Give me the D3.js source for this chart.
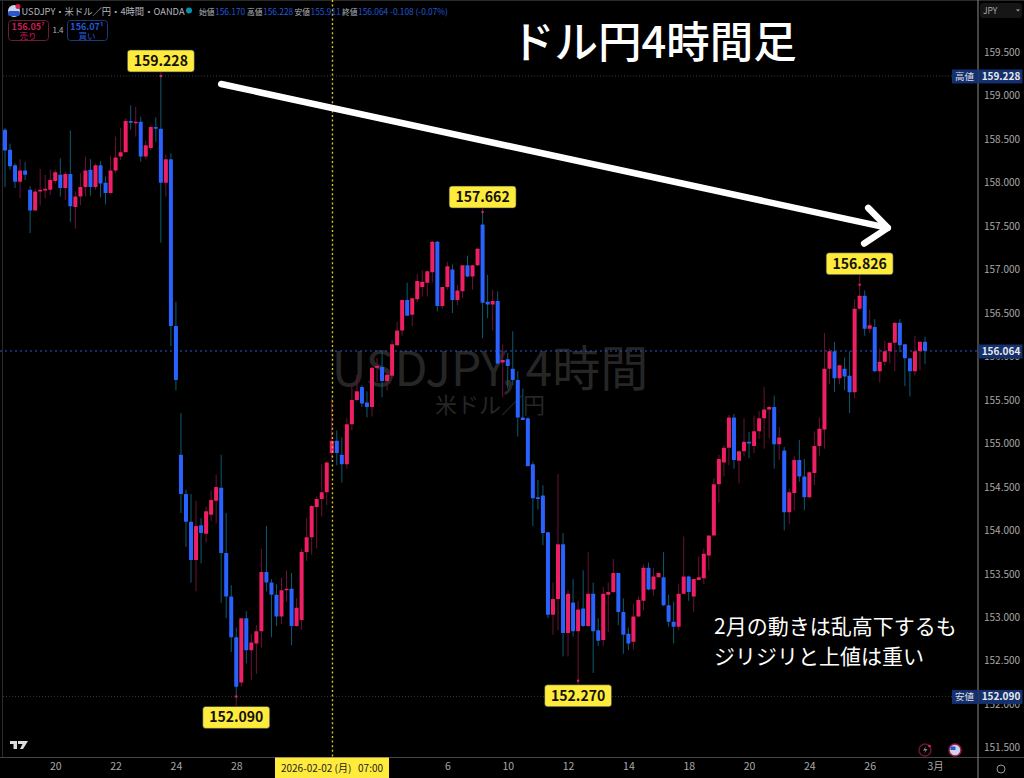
<!DOCTYPE html>
<html lang="ja"><head><meta charset="utf-8">
<script src="https://cdn.jsdelivr.net/npm/d3@7"></script>
<style>html,body{margin:0;padding:0;background:#000;overflow:hidden}svg{display:block}
text{font-family:"Noto Sans CJK JP","Noto Sans",sans-serif}</style></head><body>
<svg id="c" width="1024" height="778"></svg>
<script>
const opens=[158.61,158.38,158.20,158.01,158.14,157.92,157.68,157.90,157.91,157.92,
158.02,158.09,157.94,158.10,157.72,157.84,157.95,158.15,157.95,158.20,
158.00,157.88,158.14,158.30,158.35,158.71,158.69,158.70,158.30,158.40,
158.64,158.62,158.00,158.27,156.35,154.87,154.42,154.10,153.66,154.06,
153.96,154.18,154.34,154.49,153.74,153.24,152.77,152.25,152.99,152.62,
152.70,152.84,153.52,153.40,153.26,153.01,153.31,153.33,152.90,152.97,
153.75,153.92,154.27,154.36,154.44,154.89,155.03,154.87,154.76,155.22,
155.50,155.65,155.47,155.42,155.87,155.88,155.72,155.78,156.13,156.30,
156.65,156.48,156.66,156.80,156.85,156.97,157.32,156.58,156.80,157.00,
156.65,156.75,157.05,156.92,157.05,157.52,156.63,156.60,156.64,155.93,
155.97,155.86,155.73,155.30,155.29,154.76,154.38,154.40,153.98,153.03,
153.21,153.84,152.82,153.17,152.84,153.10,152.90,153.27,152.85,152.74,
153.26,153.29,153.51,153.06,152.81,152.72,153.01,153.19,153.57,153.32,
153.46,153.46,153.14,152.95,152.89,153.27,153.47,153.24,153.43,153.45,
153.71,153.94,154.53,154.78,154.95,155.30,154.80,154.91,155.02,154.97,
155.14,155.29,155.39,155.42,154.99,154.92,154.21,154.43,154.81,154.62,
154.38,154.66,154.97,155.16,155.86,156.06,155.75,155.86,155.78,155.59,
156.55,156.70,156.32,156.34,155.83,155.94,156.06,156.16,156.39,156.14,
155.98,155.83,156.06,156.17];
const highs=[158.63,158.45,158.22,158.27,158.24,157.96,157.93,158.16,158.09,158.15,
158.15,158.28,158.13,158.60,157.90,158.11,158.30,158.27,158.22,158.25,
158.07,158.31,158.53,158.63,158.74,158.89,158.87,158.76,158.48,158.66,
158.75,159.228,158.32,158.34,156.63,155.35,154.47,154.42,154.34,154.14,
154.27,154.46,154.64,154.87,154.20,153.37,152.88,152.99,153.07,152.81,
152.91,153.79,154.05,153.44,153.38,153.46,153.54,153.51,153.22,153.79,
154.14,154.29,154.39,154.76,154.79,155.52,155.15,155.07,155.29,155.67,
155.79,155.67,155.60,155.88,155.98,156.06,155.83,156.19,156.40,156.66,
156.85,156.67,156.95,156.99,156.99,157.33,157.33,156.80,157.09,157.06,
156.82,157.05,157.16,157.05,157.25,157.662,156.94,156.77,156.75,156.14,
156.04,156.29,155.83,155.63,155.30,154.79,154.58,154.52,153.98,153.40,
154.65,153.97,153.31,153.44,153.19,153.54,153.75,153.40,152.99,153.35,
153.40,153.67,153.51,153.22,152.88,153.16,153.24,153.61,153.63,153.57,
153.51,153.75,153.26,153.18,153.38,153.93,153.48,153.44,153.70,153.79,
153.94,154.60,154.87,154.98,155.33,155.34,154.92,155.29,155.13,155.32,
155.37,155.65,155.43,155.55,155.19,154.96,154.48,154.86,155.04,154.82,
154.68,155.14,155.30,156.27,156.09,156.17,155.90,155.99,156.06,156.66,
156.826,156.76,156.54,156.43,156.09,156.18,156.16,156.39,156.43,156.14,
155.98,156.24,156.17,156.228];
const lows=[157.95,158.15,157.94,157.82,158.03,157.42,157.68,157.74,157.82,157.86,
157.99,157.84,157.80,157.55,157.47,157.74,157.84,157.85,157.92,157.83,
157.75,157.87,158.11,158.26,158.35,158.61,158.53,158.24,158.27,158.37,
158.47,157.31,157.84,156.12,155.61,154.20,153.81,153.40,153.30,153.62,
153.86,154.11,154.08,153.17,152.99,152.60,152.09,152.20,152.47,152.28,
152.35,152.65,153.30,152.77,152.90,152.92,153.18,152.68,152.89,152.86,
153.65,153.72,153.79,154.16,154.29,154.81,154.75,154.55,154.71,155.15,
155.48,155.42,155.30,155.31,155.71,155.53,155.61,155.75,156.12,156.24,
156.47,156.35,156.63,156.69,156.69,156.85,156.52,156.55,156.77,156.50,
156.59,156.67,156.91,156.77,157.04,156.21,156.44,156.30,155.92,155.53,
155.63,155.67,155.08,155.27,154.73,154.05,154.24,153.83,152.99,152.80,
152.85,152.55,152.55,152.78,152.27,152.89,152.89,152.36,152.67,152.67,
152.83,153.28,152.91,152.58,152.62,152.63,153.00,153.08,153.31,153.25,
153.46,153.13,152.89,152.70,152.85,153.27,153.19,153.06,153.43,153.38,
153.54,153.94,154.32,154.62,154.75,154.71,154.54,154.85,154.83,154.89,
155.05,154.94,155.06,154.71,154.81,154.00,154.07,154.23,154.56,154.23,
154.37,154.52,154.86,154.94,155.68,155.59,155.68,155.61,155.35,155.52,
156.54,156.24,156.27,155.82,155.70,155.89,155.92,155.83,156.05,155.66,
155.54,155.78,155.84,155.911];
const closes=[158.37,158.19,158.01,158.14,158.09,157.68,157.90,157.92,157.93,158.03,
158.12,157.94,158.10,157.73,157.84,157.95,158.14,157.95,158.20,157.99,
157.88,158.14,158.29,158.35,158.71,158.69,158.70,158.30,158.43,158.64,
158.62,158.00,158.27,156.35,155.73,154.42,154.10,153.66,154.05,153.97,
154.22,154.35,154.50,153.74,153.24,152.77,152.20,152.99,152.62,152.71,
152.84,153.52,153.40,153.26,153.01,153.31,153.33,152.90,153.11,153.75,
153.92,154.28,154.36,154.44,154.78,155.03,154.89,154.76,155.22,155.50,
155.60,155.46,155.42,155.87,155.89,155.72,155.79,156.14,156.30,156.65,
156.47,156.67,156.87,156.86,156.98,157.32,156.58,156.80,157.04,156.65,
156.76,157.05,156.92,157.05,157.24,156.62,156.60,156.64,155.92,155.96,
155.89,155.73,155.30,155.27,154.74,154.37,154.36,153.97,153.03,153.21,
153.84,152.82,153.27,152.84,153.09,152.90,153.27,152.84,152.73,153.27,
153.29,153.51,153.06,152.80,152.70,153.01,153.20,153.57,153.32,153.47,
153.51,153.14,152.95,152.89,153.27,153.47,153.29,153.44,153.46,153.73,
153.94,154.53,154.82,154.95,155.30,154.81,154.91,155.02,155.00,155.14,
155.29,155.39,155.42,154.99,155.07,154.21,154.44,154.81,154.62,154.38,
154.67,154.97,155.17,155.86,156.06,155.75,155.90,155.77,155.59,156.55,
156.70,156.32,156.36,155.83,155.94,156.06,156.16,156.39,156.13,155.98,
155.83,156.06,156.17,156.064];
const priceTicks=[151.5,152,152.5,153,153.5,154,154.5,155,155.5,156,156.5,157,157.5,158,158.5,159,159.5];
const timeTickIndex=[10,22,34,46,88,100,112,124,136,148,160,172,185];
const timeTickLabels=["20","22","24","28","6","10","12","14","18","20","24","26","3月"];
const calloutIndex=[31,95,170,46,114];
const calloutPrice=[159.228,157.662,156.826,152.090,152.270];
const calloutSide=[-1,-1,-1,1,1];
const calloutGap=[4,4,10,10,4];
const lastPrice=156.064, highPrice=159.228, lowPrice=152.090, crossIndex=65;
const trendIndex=[43,175.6], trendPrice=[159.135,157.48];
const headIndex=[171.7,175.6,170.9], headPrice=[157.71,157.48,157.30];

const W=1024,H=778,axisX=978,axisY=757.5;
const RED="#ee1f63",BLUE="#2962ff",REDW="#6b1238",BLUEW="#0e5a70";
const svg=d3.select("#c");
svg.append("rect").attr("width",W).attr("height",H).attr("fill","#000");
const x=d3.scaleLinear().domain([0,183]).range([5,925]);
const y=d3.scaleLinear().domain([151.5,159.5]).range([747.7,52.3]);
const candles=opens.map((o,i)=>({i,o,h:highs[i],l:lows[i],c:closes[i]}));

// watermark
svg.append("text").attr("x",490).attr("y",386).attr("text-anchor","middle").attr("font-size",48).attr("fill","#262626").text("USDJPY, 4時間");
svg.append("text").attr("x",490).attr("y",413).attr("text-anchor","middle").attr("font-size",22).attr("fill","#262626").text("米ドル／円");

// frame
const ln=(a,b,c,d,col,w=1,dash=null)=>svg.append("line").attr("x1",a).attr("y1",b).attr("x2",c).attr("y2",d).attr("stroke",col).attr("stroke-width",w).attr("stroke-dasharray",dash);
ln(2.5,0,2.5,axisY,"#2a2a2a");
ln(0,0.5,W,0.5,"#2a2a2a");
ln(0,axisY,W,axisY,"#444");
ln(axisX,0,axisX,H,"#8a8a8a",1);

// high / low / last lines
ln(3,y(highPrice),952,y(highPrice),"#3a3a3a",1,"1 2");
ln(3,y(lowPrice),952,y(lowPrice),"#3a3a3a",1,"1 2");
ln(0,y(lastPrice),axisX,y(lastPrice),"#2a5ad0",1,"2 3");

// candles
const g=svg.append("g");
g.selectAll("line.w").data(candles).join("line").attr("class","w")
 .attr("x1",d=>x(d.i)).attr("x2",d=>x(d.i)).attr("y1",d=>y(d.h)).attr("y2",d=>y(d.l))
 .attr("stroke",d=>d.c>=d.o?REDW:BLUEW).attr("stroke-width",1);
g.selectAll("rect").data(candles).join("rect")
 .attr("x",d=>x(d.i)-2).attr("width",4)
 .attr("y",d=>y(Math.max(d.o,d.c))).attr("height",d=>Math.max(1.5,Math.abs(y(d.o)-y(d.c))))
 .attr("rx",0.5).attr("fill",d=>d.c>=d.o?RED:BLUE);

// crosshair
ln(x(crossIndex)+0.7,0,x(crossIndex)+0.7,axisY,"#e0c020",1.4,"2 2.6");

// axes
const ay=d3.axisRight(y).tickValues(priceTicks).tickFormat(d3.format(".3f")).tickSize(0).tickPadding(0);
const gy=svg.append("g").attr("transform",`translate(${axisX+6},0)`).call(ay);
gy.select(".domain").remove();
gy.selectAll("text").attr("fill","#a8a8a8").attr("font-size",10).attr("font-family",'"Open Sans",sans-serif');
const ax=d3.axisBottom(x).tickValues(timeTickIndex).tickFormat((d,i)=>timeTickLabels[i]).tickSize(0).tickPadding(0);
const gx=svg.append("g").attr("transform",`translate(0,${axisY+5})`).call(ax);
gx.select(".domain").remove();
gx.selectAll("text").attr("fill","#a8a8a8").attr("font-size",10.5).attr("font-family",'"Open Sans","Noto Sans CJK JP",sans-serif');

// price tags
function tag(p,name){
  const yy=y(p);
  if(name){svg.append("rect").attr("x",952).attr("y",yy-6.5).attr("width",26).attr("height",14).attr("fill","#14306e");
    svg.append("text").attr("x",964.5).attr("y",yy+4).attr("text-anchor","middle").attr("font-size",9.5).attr("fill","#ddd").text(name);}
  svg.append("rect").attr("x",axisX+0.5).attr("y",yy-6.5).attr("width",44).attr("height",14).attr("fill","#14306e");
  svg.append("text").attr("x",1001).attr("y",yy+4).attr("text-anchor","middle").attr("font-size",10).attr("font-weight",600).attr("font-family",'"Open Sans",sans-serif').attr("fill","#e8e8e8").text(d3.format(".3f")(p));
}
tag(highPrice,"高値");tag(lowPrice,"安値");tag(lastPrice,null);
svg.append("rect").attr("x",980).attr("y",3).attr("width",42).attr("height",15).attr("rx",3).attr("fill","#161616");
svg.append("text").attr("x",983).attr("y",14).attr("font-size",8.5).attr("fill","#aaa").text("JPY");
svg.append("path").attr("d","M1016 9.5h4l-2 2z").attr("fill","#aaa");

// crosshair time label
svg.append("rect").attr("x",275).attr("y",axisY).attr("width",114).attr("height",H-axisY).attr("fill","#ffeb3b");
svg.append("text").attr("x",332).attr("y",772).attr("text-anchor","middle").attr("font-size",10).attr("fill","#222").attr("xml:space","preserve").text("2026-02-02 (月)   07:00");

// callouts
calloutIndex.forEach((ci,k)=>{
  const px=x(ci),py=y(calloutPrice[k]),s=calloutSide[k],gap=calloutGap[k];
  const boxY=s<0?py-gap-22:py+gap;
  ln(px,py,px,s<0?py-gap:py+gap,REDW,1);
  svg.append("circle").attr("cx",px).attr("cy",py).attr("r",1.2).attr("fill",RED);
  svg.append("rect").attr("x",px-33.5).attr("y",boxY).attr("width",67).attr("height",22).attr("rx",3).attr("fill","#ffeb3b").attr("stroke","#1b2a55").attr("stroke-width",0.6);
  svg.append("text").attr("x",px).attr("y",boxY+16).attr("text-anchor","middle").attr("font-size",14).attr("font-weight",600).attr("font-family",'"Open Sans",sans-serif').attr("fill","#111").text(d3.format(".3f")(calloutPrice[k]));
});

// trend arrow
const arrow=d3.line().x(d=>x(d[0])).y(d=>y(d[1]));
const common=s=>s.attr("fill","none").attr("stroke","#fff").attr("stroke-width",6.5).attr("stroke-linecap","round").attr("stroke-linejoin","round");
svg.append("path").attr("d",arrow(d3.zip(trendIndex,trendPrice))).call(common);
svg.append("path").attr("d",arrow(d3.zip(headIndex,headPrice))).call(common);

// annotations
svg.append("text").attr("x",511).attr("y",58).attr("font-size",43.5).attr("font-weight",500).attr("fill","#fff").text("ドル円4時間足");
svg.append("text").attr("x",714).attr("y",633.5).attr("font-size",21).attr("fill","#fff").text("2月の動きは乱高下するも");
svg.append("text").attr("x",714).attr("y",663.5).attr("font-size",21).attr("fill","#fff").text("ジリジリと上値は重い");

// header
const H1="#b2b5be";
svg.append("circle").attr("cx",14).attr("cy",11).attr("r",6).attr("fill","#c8d4f0");
svg.append("rect").attr("x",8).attr("y",11).attr("width",12).attr("height",5).attr("rx",2).attr("fill","#2a56c8");
svg.append("circle").attr("cx",18).attr("cy",6.5).attr("r",2.5).attr("fill","#d8224a");
svg.append("text").attr("x",21.5).attr("y",14.5).attr("font-size",9.3).attr("fill",H1).text("USDJPY・米ドル／円・4時間・OANDA");
svg.append("circle").attr("cx",189).attr("cy",10.5).attr("r",3).attr("fill","#0a8fb0");
const hdrL=[199,247,294.5,342],hdrN=["始値","高値","安値","終値"],hdrV=[156.170,156.228,155.911,156.064];
hdrL.forEach((hx,k)=>{
  svg.append("text").attr("x",hx).attr("y",14.5).attr("font-size",7.8).attr("fill",H1).text(hdrN[k]);
  svg.append("text").attr("x",hx+16).attr("y",14.5).attr("font-size",8.4).attr("font-family",'"Open Sans",sans-serif').attr("fill","#2458d8").text(d3.format(".3f")(hdrV[k]));
});
svg.append("text").attr("x",390).attr("y",14.5).attr("font-size",8.3).attr("font-family",'"Open Sans",sans-serif').attr("fill","#2458d8").text("-0.108 (-0.07%)");
function order(xx,col,stroke,v,sup,lab){
  svg.append("rect").attr("x",xx+.5).attr("y",20.5).attr("width",40).attr("height",20).attr("rx",3).attr("fill","none").attr("stroke",stroke);
  svg.append("text").attr("x",xx+20).attr("y",29.5).attr("text-anchor","middle").attr("font-size",9).attr("font-weight",600).attr("font-family",'"Open Sans",sans-serif').attr("fill",col).text(v+sup);
  svg.append("text").attr("x",xx+20).attr("y",38.5).attr("text-anchor","middle").attr("font-size",8.5).attr("fill",col).text(lab);
}
order(8,"#c81e52","#6e1a38","156.05","⁷","売り");
order(67,"#2458d8","#1a3a7a","156.07","¹","買い");
svg.append("text").attr("x",58).attr("y",33).attr("text-anchor","middle").attr("font-size",8).attr("fill",H1).text("1.4");

// bottom icons
svg.append("path").attr("d","M10 741h7v8h-3.5v-5H10zM18 741h10l-5 8h-3l2.5-5H18z").attr("fill","#ddd");
svg.append("circle").attr("cx",925).attr("cy",750).attr("r",6).attr("fill","none").attr("stroke","#6b1238").attr("stroke-width",1.5);
svg.append("path").attr("d","M926 746l-3 4.5h2.5l-1.5 3.5 3.5-5h-2.5z").attr("fill","#888");
svg.append("circle").attr("cx",929.5).attr("cy",746).attr("r",1.3).attr("fill","#ee1f63");
svg.append("circle").attr("cx",955).attr("cy",750).attr("r",6).attr("fill","#c8d4f0").attr("stroke","#a01840").attr("stroke-width",1.5);
svg.append("rect").attr("x",950.5).attr("y",746.5).attr("width",5).attr("height",3.5).attr("fill","#2a56c8");
svg.append("circle").attr("cx",1001).attr("cy",769).attr("r",4).attr("fill","none").attr("stroke","#999").attr("stroke-width",1);
</script></body></html>
